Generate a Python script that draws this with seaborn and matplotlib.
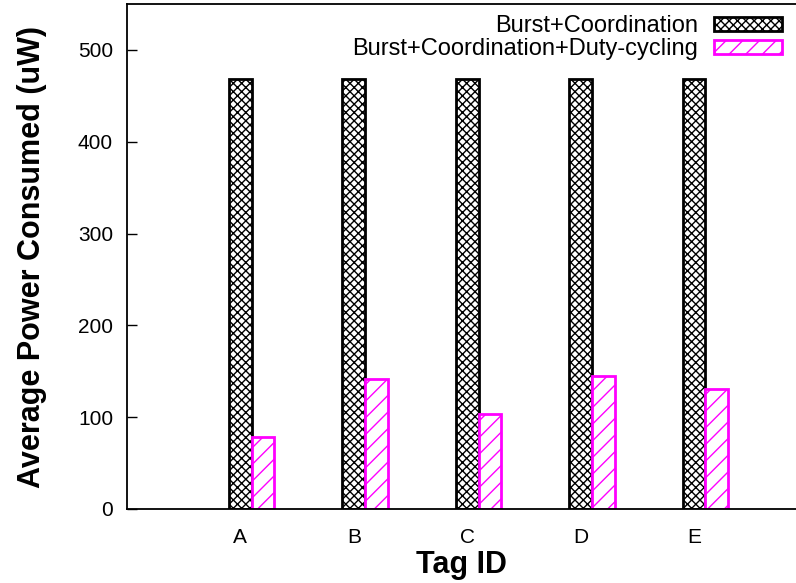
import numpy as np
import pandas as pd
import matplotlib
matplotlib.use("Agg")
import matplotlib.pyplot as plt
import seaborn as sns

# Average power per tag for the two schemes (uW)
tags = ["A", "B", "C", "D", "E"]
burst_coord = [468, 468, 468, 468, 468]
burst_coord_duty = [78, 142, 104, 145, 131]
series_names = ["Burst+Coordination", "Burst+Coordination+Duty-cycling"]
y_ticks = [0, 100, 200, 300, 400, 500]

df = pd.DataFrame({
    "tag": tags * 2,
    "power": burst_coord + burst_coord_duty,
    "scheme": [series_names[0]] * len(tags) + [series_names[1]] * len(tags),
})

sns.set_style("white")
plt.rcParams["font.family"] = ["Liberation Sans", "DejaVu Sans"]
plt.rcParams["hatch.linewidth"] = 1.0
for key in ("text.color", "axes.labelcolor", "xtick.color", "ytick.color"):
    plt.rcParams[key] = "black"

fig = plt.figure(figsize=(7.96, 5.83), dpi=100)
ax = fig.add_axes([127 / 796, 74 / 583, 1 - 127 / 796, 505 / 583])

sns.barplot(data=df, x="tag", y="power", hue="scheme",
            palette=["black", "#ff00ff"], width=0.4, fill=False,
            linewidth=2.0, legend=False, ax=ax)

hatches = ["xxxx", "//"]
for cont, h in zip(ax.containers, hatches):
    for p in cont.patches:
        p.set_hatch(h)
        p.set_facecolor("white")

ax.set_ylim(0, 550)
ax.set_xlim(-1.10, 4.80)
ax.set_yticks(y_ticks)
ax.set_xticks(np.arange(len(tags)) - 0.1, tags)
ax.tick_params(axis="y", direction="in", length=7, width=1, pad=10,
               labelsize=15, right=False, left=True)
ax.tick_params(axis="x", length=0, pad=14, labelsize=15)

for s in ax.spines.values():
    s.set_linewidth(1.3)
    s.set_color("black")
ax.spines["right"].set_visible(False)

ax.set_xlabel("Tag ID", fontsize=22, fontweight="bold", labelpad=2)
ax.set_ylabel("Average Power Consumed (uW)", fontsize=22,
              fontweight="bold", labelpad=22)

leg = ax.legend(handles=list(ax.containers), labels=series_names,
                loc="upper right", bbox_to_anchor=(782 / 796, 1 - 15 / 583),
                bbox_transform=fig.transFigure, frameon=False,
                markerfirst=False, fontsize=17, handlelength=2.9,
                handleheight=0.55, handletextpad=0.64, labelspacing=0.05,
                borderpad=0, borderaxespad=0)

fig.savefig("out.png", dpi=100)
